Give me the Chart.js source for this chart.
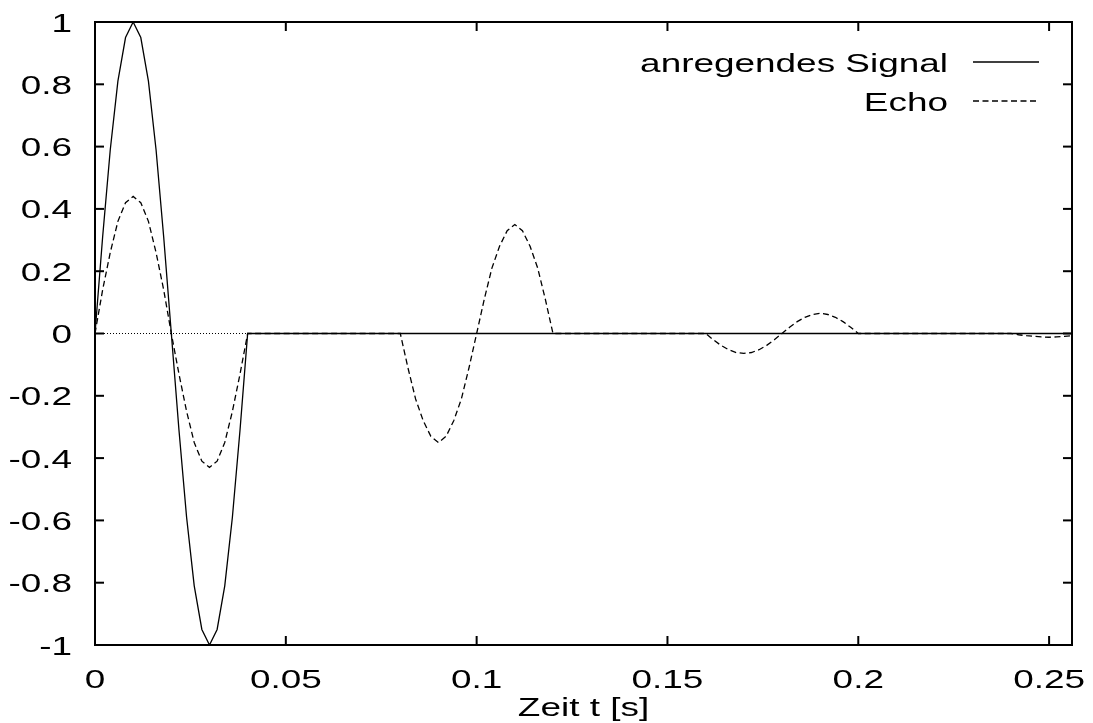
<!DOCTYPE html>
<html>
<head>
<meta charset="utf-8">
<title>Signal und Echo</title>
<script src="https://cdn.jsdelivr.net/npm/chart.js@4/dist/chart.umd.min.js"></script>
<style>
  html, body { margin: 0; padding: 0; background: #fff; }
  canvas { display: block; }
</style>
</head>
<body>
<canvas id="echoChart" width="1093" height="723"></canvas>
<script>
// Zeitachse und Werte (t in s)
const signalT = [0, 0.002, 0.004, 0.006, 0.008, 0.01, 0.012, 0.014, 0.016, 0.018, 0.02,
    0.022, 0.024, 0.026, 0.028, 0.03, 0.032, 0.034, 0.036, 0.038, 0.04, 0.256];
const signalY = [0, 0.31, 0.59, 0.81, 0.95, 1, 0.95, 0.81, 0.59, 0.31, 0,
    -0.31, -0.59, -0.81, -0.95, -1, -0.95, -0.81, -0.59, -0.31, 0, 0];

const echoT = [
    0, 0.002, 0.004, 0.006, 0.008, 0.01, 0.012, 0.014, 0.016, 0.018, 0.02,
    0.022, 0.024, 0.026, 0.028, 0.03, 0.032, 0.034, 0.036, 0.038, 0.04,
    0.08, 0.082, 0.084, 0.086, 0.088, 0.09, 0.092, 0.094, 0.096, 0.098, 0.1,
    0.102, 0.104, 0.106, 0.108, 0.11, 0.112, 0.114, 0.116, 0.118, 0.12,
    0.16, 0.162, 0.164, 0.166, 0.168, 0.17, 0.172, 0.174, 0.176, 0.178, 0.18,
    0.182, 0.184, 0.186, 0.188, 0.19, 0.192, 0.194, 0.196, 0.198, 0.2,
    0.24, 0.242, 0.244, 0.246, 0.248, 0.25, 0.252, 0.254, 0.256
];
const echoY = [
    0, 0.14, 0.26, 0.36, 0.42, 0.44, 0.42, 0.36, 0.26, 0.14, 0,
    -0.13, -0.25, -0.35, -0.41, -0.43, -0.41, -0.35, -0.25, -0.13, 0,
    0, -0.11, -0.21, -0.28, -0.33, -0.35, -0.33, -0.28, -0.21, -0.11, 0,
    0.11, 0.21, 0.28, 0.33, 0.35, 0.33, 0.28, 0.21, 0.11, 0,
    0, -0.02, -0.038, -0.052, -0.061, -0.064, -0.061, -0.052, -0.038, -0.02, 0,
    0.02, 0.038, 0.052, 0.061, 0.065, 0.061, 0.052, 0.038, 0.02, 0,
    0, -0.004, -0.007, -0.009, -0.011, -0.012, -0.011, -0.009, -0.007
];

const xTickValues = [0, 0.05, 0.1, 0.15, 0.2, 0.25];
const xTickLabels = ['0', '0.05', '0.1', '0.15', '0.2', '0.25'];
const yTickValues = [-1, -0.8, -0.6, -0.4, -0.2, 0, 0.2, 0.4, 0.6, 0.8, 1];
const yTickLabels = ['-1', '-0.8', '-0.6', '-0.4', '-0.2', '0', '0.2', '0.4', '0.6', '0.8', '1'];

const xTitle = 'Zeit t [s]';

const FONT = '26px "Liberation Sans", Arial, Helvetica, sans-serif';
const STRETCH = 1.42; // Schrift ist breiter als hoch (gnuplot-Ausgabe)

function toPoints(ts, ys) {
    return ts.map((t, i) => ({ x: t, y: ys[i] }));
}

// Text horizontal gestreckt zeichnen
function drawText(ctx, text, x, y, align) {
    ctx.save();
    ctx.translate(x, y);
    ctx.scale(STRETCH, 1);
    ctx.font = FONT;
    ctx.fillStyle = '#000';
    ctx.textAlign = align;
    ctx.textBaseline = 'alphabetic';
    ctx.fillText(text, 0, 0);
    ctx.restore();
}

function line(ctx, x1, y1, x2, y2) {
    ctx.beginPath();
    ctx.moveTo(x1, y1);
    ctx.lineTo(x2, y2);
    ctx.stroke();
}

// Rahmen, Ticks nach innen, Beschriftung und Legende im gnuplot-Stil
const gnuplotStyle = {
    id: 'gnuplotStyle',
    beforeDatasetsDraw(chart) {
        const { ctx, chartArea: a, scales: { y } } = chart;
        const y0 = y.getPixelForValue(0);
        ctx.save();
        ctx.strokeStyle = '#000';
        ctx.lineWidth = 1;
        ctx.setLineDash([1, 2]);
        line(ctx, a.left, y0, a.right, y0);
        ctx.restore();
    },
    afterDraw(chart) {
        const { ctx, chartArea: a, scales: { x, y } } = chart;
        const tick = 9;

        ctx.save();
        ctx.strokeStyle = '#000';
        ctx.lineWidth = 2;
        ctx.strokeRect(a.left, a.top, a.right - a.left, a.bottom - a.top);

        xTickValues.forEach((v, i) => {
            const px = x.getPixelForValue(v);
            if (i > 0) {
                line(ctx, px, a.bottom, px, a.bottom - tick);
                line(ctx, px, a.top, px, a.top + tick);
            }
            drawText(ctx, xTickLabels[i], px, 688, 'center');
        });

        yTickValues.forEach((v, i) => {
            const py = y.getPixelForValue(v);
            if (i > 0 && i < yTickValues.length - 1) {
                line(ctx, a.left, py, a.left + tick, py);
                line(ctx, a.right, py, a.right - tick, py);
            }
            drawText(ctx, yTickLabels[i], a.left - 23, py + 9.5, 'right');
        });
        ctx.restore();

        drawText(ctx, xTitle, (a.left + a.right) / 2, 716, 'center');

        // Legende oben rechts
        chart.data.datasets.forEach((ds, i) => {
            const ly = 62 + i * 39;
            drawText(ctx, ds.label, 948, ly + 9.5, 'right');
            ctx.save();
            ctx.strokeStyle = ds.borderColor;
            ctx.lineWidth = ds.borderWidth;
            ctx.setLineDash(ds.borderDash || []);
            line(ctx, 973, ly, 1039, ly);
            ctx.restore();
        });
    }
};

new Chart(document.getElementById('echoChart'), {
    type: 'line',
    data: {
        datasets: [{
            label: 'anregendes Signal',
            data: toPoints(signalT, signalY),
            borderColor: '#000',
            borderWidth: 1.3,
            pointRadius: 0,
            tension: 0
        }, {
            label: 'Echo',
            data: toPoints(echoT, echoY),
            borderColor: '#000',
            borderWidth: 1.3,
            borderDash: [6, 3.5],
            pointRadius: 0,
            tension: 0
        }]
    },
    options: {
        responsive: false,
        animation: false,
        devicePixelRatio: 1,
        layout: { padding: { top: 22, right: 21, bottom: 0, left: 0 } },
        plugins: {
            legend: { display: false },
            tooltip: { enabled: false }
        },
        scales: {
            x: {
                type: 'linear',
                min: 0,
                max: 0.256,
                grid: { display: false, drawTicks: false },
                border: { display: false },
                ticks: { display: false },
                afterFit: function(scale) { scale.height = 78; }
            },
            y: {
                type: 'linear',
                min: -1,
                max: 1,
                grid: { display: false, drawTicks: false },
                border: { display: false },
                ticks: { display: false },
                afterFit: function(scale) { scale.width = 95; }
            }
        }
    },
    plugins: [gnuplotStyle]
});
</script>
</body>
</html>
